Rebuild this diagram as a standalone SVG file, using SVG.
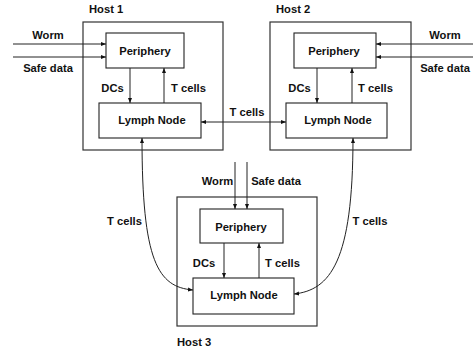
<svg xmlns="http://www.w3.org/2000/svg" width="473" height="349" viewBox="0 0 473 349">
<style>
text{font-family:"Liberation Sans",Arial,sans-serif;font-weight:bold;font-size:11.2px;fill:#111}
.host{fill:none;stroke:#333;stroke-width:1.2}
.box{fill:#fff;stroke:#222;stroke-width:1.1}
.c{fill:none;stroke:#222;stroke-width:1}
</style>
<defs>
<marker id="ah" viewBox="0 0 10 10" refX="10" refY="5" markerWidth="5" markerHeight="5" orient="auto-start-reverse" markerUnits="userSpaceOnUse">
<path d="M0,1 L10,5 L0,9 z" fill="#111"/>
</marker>
</defs>
<g id="host1">
<rect class="host" x="83" y="22" width="140" height="128"/>
<text x="89" y="12.5">Host 1</text>
</g>
<g id="host2">
<rect class="host" x="270" y="22" width="141" height="128"/>
<text x="276" y="12.5">Host 2</text>
</g>
<g id="host3">
<rect class="host" x="177" y="197" width="140" height="129"/>
<text x="177" y="346">Host 3</text>
</g>
<g id="periphery1">
<rect class="box" x="106" y="33" width="78" height="35"/>
<text x="145" y="55" text-anchor="middle">Periphery</text>
</g>
<g id="lymph1">
<rect class="box" x="99" y="103" width="102" height="35"/>
<text x="152" y="123.5" text-anchor="middle">Lymph Node</text>
</g>
<g id="periphery2">
<rect class="box" x="294" y="33" width="82" height="35"/>
<text x="334" y="55" text-anchor="middle">Periphery</text>
</g>
<g id="lymph2">
<rect class="box" x="286" y="103" width="101" height="35"/>
<text x="338" y="123.5" text-anchor="middle">Lymph Node</text>
</g>
<g id="periphery3">
<rect class="box" x="200" y="209" width="83" height="34"/>
<text x="241" y="231" text-anchor="middle">Periphery</text>
</g>
<g id="lymph3">
<rect class="box" x="193" y="278" width="101" height="36"/>
<text x="244" y="299" text-anchor="middle">Lymph Node</text>
</g>
<g id="connectors">
<line class="c" x1="13" y1="44" x2="106" y2="44" marker-end="url(#ah)"/>
<line class="c" x1="13" y1="57" x2="106" y2="57" marker-end="url(#ah)"/>
<line class="c" x1="473" y1="44" x2="376" y2="44" marker-end="url(#ah)"/>
<line class="c" x1="473" y1="57" x2="376" y2="57" marker-end="url(#ah)"/>
<line class="c" x1="130" y1="68" x2="130" y2="103" marker-end="url(#ah)"/>
<line class="c" x1="164" y1="103" x2="164" y2="68" marker-end="url(#ah)"/>
<line class="c" x1="317" y1="68" x2="317" y2="103" marker-end="url(#ah)"/>
<line class="c" x1="352" y1="103" x2="352" y2="68" marker-end="url(#ah)"/>
<line class="c" x1="224" y1="243" x2="224" y2="278" marker-end="url(#ah)"/>
<line class="c" x1="259" y1="278" x2="259" y2="243" marker-end="url(#ah)"/>
<line class="c" x1="235" y1="162" x2="235" y2="209" marker-end="url(#ah)"/>
<line class="c" x1="247" y1="162" x2="247" y2="209" marker-end="url(#ah)"/>
<line class="c" x1="201" y1="122" x2="286" y2="122" marker-start="url(#ah)" marker-end="url(#ah)"/>
<path class="c" d="M142,138 C142,262 158,287 193,290" marker-start="url(#ah)" marker-end="url(#ah)"/>
<path class="c" d="M353,138 C353,262 330,290 294,294" marker-start="url(#ah)" marker-end="url(#ah)"/>
</g>
<g id="labels">
<text x="48" y="39" text-anchor="middle">Worm</text>
<text x="48" y="72" text-anchor="middle">Safe data</text>
<text x="445" y="39" text-anchor="middle">Worm</text>
<text x="445" y="72" text-anchor="middle">Safe data</text>
<text x="112.5" y="92" text-anchor="middle">DCs</text>
<text x="188.5" y="92" text-anchor="middle">T cells</text>
<text x="299.5" y="92" text-anchor="middle">DCs</text>
<text x="375.5" y="92" text-anchor="middle">T cells</text>
<text x="247" y="116" text-anchor="middle">T cells</text>
<text x="217.5" y="185" text-anchor="middle">Worm</text>
<text x="276" y="185" text-anchor="middle">Safe data</text>
<text x="204" y="267" text-anchor="middle">DCs</text>
<text x="282.5" y="267" text-anchor="middle">T cells</text>
<text x="124.5" y="225" text-anchor="middle">T cells</text>
<text x="370" y="225" text-anchor="middle">T cells</text>
</g>
</svg>
